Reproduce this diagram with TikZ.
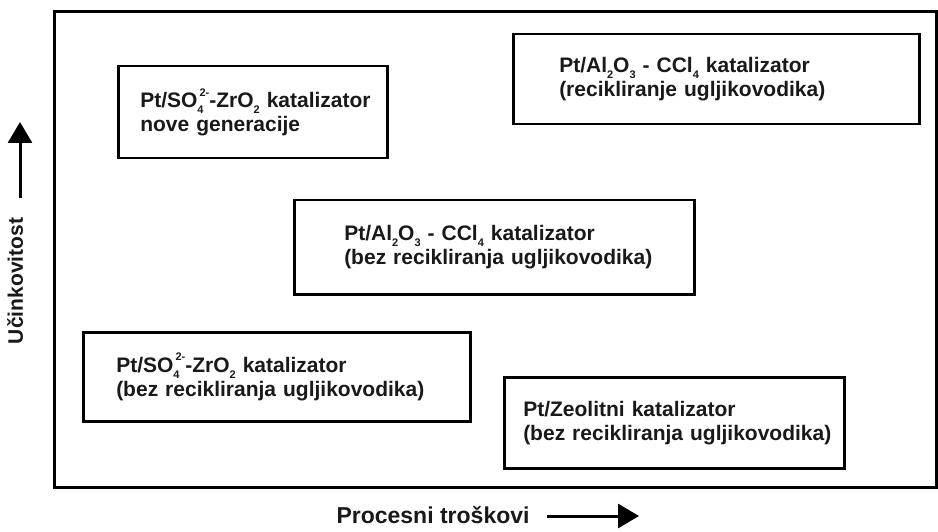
\documentclass[tikz,border=0pt]{standalone}
\usepackage{fontspec}
\setmainfont{Liberation Sans}
\usetikzlibrary{arrows.meta}
\newcommand\mysub[1]{\raisebox{-0.28em}{\fontsize{11}{11}\selectfont #1}}
\newcommand\mysup[1]{\raisebox{0.55em}{\fontsize{11}{11}\selectfont #1}}
\newcommand\soz{Pt/SO\mysub{4}\kern-4pt\mysup{2-}-ZrO\mysub{2}}
\newcommand\alc{Pt/Al\mysub{2}O\mysub{3} - CCl\mysub{4}}
\hfuzz=200pt
\begin{document}
\begin{tikzpicture}[x=1pt,y=-1pt,
  box/.style={draw=black, line width=2.5pt, anchor=north west, align=left,
    font=\fontsize{21}{24}\selectfont\bfseries, text=black!90, inner ysep=0pt},
  axlab/.style={font=\fontsize{21}{24}\selectfont\bfseries, text=black!90},
  axarrow/.style={line width=3pt, -{Triangle[length=21pt,width=24pt]}}]
\useasboundingbox (0,0) rectangle (938,532);
\node[draw=black, line width=3.2pt, minimum width=882pt, minimum height=476pt, anchor=north west, inner sep=0pt] (frame) at (53,10) {};
% boxes
\node[box, minimum width=269pt, minimum height=92pt, inner xsep=22pt, text width=225pt] (b1) at (117,65)
  {\mbox{\soz{} katalizator}\\\mbox{nove generacije}};
\node[box, minimum width=406pt, minimum height=90pt, inner xsep=46pt, text width=314pt] (b2) at (512,33)
  {\mbox{\alc{} katalizator}\\\mbox{(recikliranje ugljikovodika)}};
\node[box, minimum width=400pt, minimum height=94pt, inner xsep=50pt, text width=300pt] (b3) at (293,199)
  {\mbox{\alc{} katalizator}\\\mbox{(bez recikliranja ugljikovodika)}};
\node[box, minimum width=387pt, minimum height=89pt, inner xsep=33pt, text width=321pt] (b4) at (82,331)
  {\mbox{\soz{} katalizator}\\\mbox{(bez recikliranja ugljikovodika)}};
\node[box, minimum width=340pt, minimum height=91pt, inner xsep=19pt, text width=302pt] (b5) at (503,376)
  {\mbox{Pt/Zeolitni katalizator}\\\mbox{(bez recikliranja ugljikovodika)}};
% axes
\node[axlab, rotate=90, anchor=base] (ylab) at (23,281) {Učinkovitost};
\coordinate (ya) at (20,198);
\coordinate (yb) at (20,122);
\draw[axarrow] (ya) -- (yb);
\node[axlab, font=\fontsize{23}{26}\selectfont\bfseries, anchor=base west] (xlab) at (333,523) {Procesni troškovi};
\coordinate (xa) at (547,516);
\coordinate (xb) at (639,516);
\draw[axarrow] (xa) -- (xb);
\end{tikzpicture}
\end{document}
